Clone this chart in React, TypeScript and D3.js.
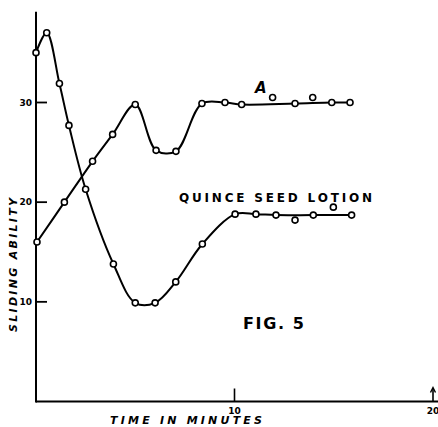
import React from 'react';
import { scaleLinear, line, curveCatmullRom } from 'd3';

// quince seed lotion (starts high, dips, levels off)
const quinceTime = [0, 0.54, 1.18, 1.66, 2.5, 3.9, 5.0, 6.0, 7.04, 8.38, 10.03, 11.08, 12.09, 13.97, 15.9];
const quinceValue = [35.0, 37.0, 31.9, 27.7, 21.3, 13.8, 9.9, 9.9, 12.0, 15.8, 18.8, 18.8, 18.7, 18.7, 18.7];
const quinceExtraTime = [13.05, 14.98];
const quinceExtraValue = [18.2, 19.5];

// curve A
const aTime = [0.05, 1.43, 2.85, 3.86, 5.0, 6.05, 7.05, 8.36, 9.52, 10.36, 13.05, 14.9, 15.82];
const aValue = [16.0, 20.0, 24.1, 26.8, 29.8, 25.2, 25.1, 29.9, 30.0, 29.8, 29.9, 30.0, 30.0];
const aExtraTime = [11.92, 13.94];
const aExtraValue = [30.5, 30.5];

const yTicks = [10, 20, 30];
const xTicks = [10, 20];

const W = 438;
const H = 427;

const App = () => {
    const x = scaleLinear().domain([0, 20]).range([36, 433]);
    const y = scaleLinear().domain([0, 30]).range([401.5, 102.5]);

    const makePath = (ts: number[], vs: number[]) =>
        line<number>()
            .x(d => x(ts[d]))
            .y(d => y(vs[d]))
            .curve(curveCatmullRom.alpha(0.5))(ts.map((_, i) => i)) || '';

    const dots = (ts: number[], vs: number[], key: string) =>
        ts.map((t, i) => (
            <circle key={key + i} cx={x(t)} cy={y(vs[i])} r={3}
                fill="white" stroke="black" strokeWidth={1.6} />
        ));

    const font = '"DejaVu Sans", sans-serif';

    return (
        <svg width={W} height={H} style={{ position: 'absolute', left: 0, top: 0, background: 'white' }}>
            <rect width={W} height={H} fill="white" />

            {/* axes */}
            <line x1={x(0)} x2={x(0)} y1={y(39.1)} y2={y(0) + 1} stroke="black" strokeWidth={2} />
            <line x1={x(0)} x2={438} y1={y(0)} y2={y(0)} stroke="black" strokeWidth={2} />

            {yTicks.map(t => (
                <g key={'yt' + t}>
                    <line x1={x(0)} x2={x(0) + 11} y1={y(t)} y2={y(t)} stroke="black" strokeWidth={1.8} />
                    <text x={x(0) - 4} y={y(t)} dy="0.35em" textAnchor="end"
                        fontFamily={font} fontSize={9} fontWeight="bold">{t}</text>
                </g>
            ))}

            {xTicks.map(t => (
                <g key={'xt' + t}>
                    <line x1={x(t)} x2={x(t)} y1={y(0)} y2={y(0) - 13} stroke="black" strokeWidth={1.6} />
                    <text x={x(t)} y={y(0) + 12} textAnchor="middle"
                        fontFamily={font} fontSize={9} fontWeight="bold">{t}</text>
                </g>
            ))}
            <path d={`M${x(20) - 2.5},${y(0) - 9} L${x(20)},${y(0) - 14} L${x(20) + 2.5},${y(0) - 9}`}
                fill="none" stroke="black" strokeWidth={1.4} />

            {/* axis titles */}
            <text x={110} y={424} textLength={152} lengthAdjust="spacing"
                fontFamily={font} fontSize={11} fontStyle="italic" fontWeight="bold">TIME IN MINUTES</text>
            <text transform="translate(17,332) rotate(-90)" x={0} y={0} textLength={134} lengthAdjust="spacing"
                fontFamily={font} fontSize={11} fontStyle="italic" fontWeight="bold">SLIDING ABILITY</text>

            {/* curves */}
            <path d={makePath(quinceTime, quinceValue)} fill="none" stroke="black" strokeWidth={2} />
            <path d={makePath(aTime, aValue)} fill="none" stroke="black" strokeWidth={2} />
            {dots(quinceTime, quinceValue, 'q')}
            {dots(quinceExtraTime, quinceExtraValue, 'qe')}
            {dots(aTime, aValue, 'a')}
            {dots(aExtraTime, aExtraValue, 'ae')}

            {/* annotations */}
            <text x={255} y={93} fontFamily={font} fontSize={15} fontStyle="italic" fontWeight="bold">A</text>
            <text x={179} y={202} textLength={193} lengthAdjust="spacing"
                fontFamily={font} fontSize={12} fontWeight="bold">QUINCE SEED LOTION</text>
            <text x={243} y={329} textLength={61} lengthAdjust="spacing"
                fontFamily={font} fontSize={16} fontWeight="bold">FIG. 5</text>
        </svg>
    );
};

export default App;
